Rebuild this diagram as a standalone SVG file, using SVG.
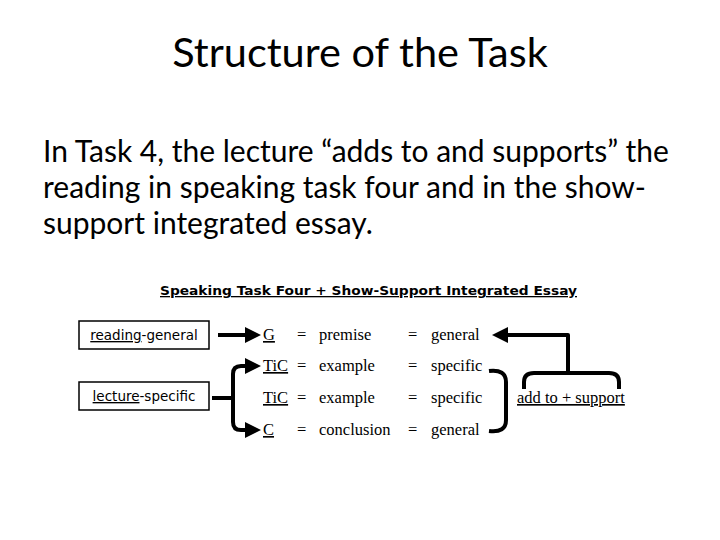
<svg xmlns="http://www.w3.org/2000/svg" width="720" height="540" viewBox="0 0 720 540">
<style>
.title{font-family:Lato,"Open Sans",sans-serif;font-size:41.5px;fill:#000}
.body{font-family:Lato,"Open Sans",sans-serif;font-size:30px;fill:#000}
.head{font-family:"DejaVu Sans",Verdana,sans-serif;font-size:13px;font-weight:bold;fill:#000;text-decoration:underline}
.box{fill:#fff;stroke:#000;stroke-width:1.5}
.lbl{font-family:"DejaVu Sans",Verdana,sans-serif;font-size:13.5px;fill:#000}
.ser{font-family:"Liberation Serif","Times New Roman",serif;font-size:16.5px;fill:#000}
.u{text-decoration:underline}
.thick{fill:none;stroke:#000;stroke-width:4;stroke-linejoin:round;stroke-linecap:butt}
</style>
<defs>
<marker id="ah" markerWidth="4" markerHeight="4" refX="0.5" refY="2" orient="auto" markerUnits="strokeWidth">
<path d="M0,0 L4,2 L0,4 Z" fill="#000"/>
</marker>
</defs>
<rect width="720" height="540" fill="#fff"/>
<text class="title" x="360" y="67" text-anchor="middle">Structure of the Task</text>
<text class="body" x="43" y="162">In Task 4, the lecture “adds to and supports” the</text>
<text class="body" x="43" y="198">reading in speaking task four and in the show-</text>
<text class="body" x="43" y="234">support integrated essay.</text>
<text class="head" x="160" y="295" textLength="417" lengthAdjust="spacingAndGlyphs">Speaking Task Four + Show-Support Integrated Essay</text>
<g id="reading-general">
<rect class="box" x="79" y="321" width="130" height="28"/>
<text class="lbl" x="144" y="340" text-anchor="middle"><tspan class="u">reading</tspan>-general</text>
</g>
<g id="lecture-specific">
<rect class="box" x="79" y="382" width="130" height="28"/>
<text class="lbl" x="144" y="401" text-anchor="middle"><tspan class="u">lecture</tspan>-specific</text>
</g>
<g id="rows">
<text class="ser u" x="263" y="340">G</text>
<text class="ser" x="297" y="340">=</text>
<text class="ser" x="319" y="340">premise</text>
<text class="ser" x="408" y="340">=</text>
<text class="ser" x="431" y="340">general</text>
<text class="ser u" x="263" y="371">TiC</text>
<text class="ser" x="297" y="371">=</text>
<text class="ser" x="319" y="371">example</text>
<text class="ser" x="408" y="371">=</text>
<text class="ser" x="431" y="371">specific</text>
<text class="ser u" x="263" y="403">TiC</text>
<text class="ser" x="297" y="403">=</text>
<text class="ser" x="319" y="403">example</text>
<text class="ser" x="408" y="403">=</text>
<text class="ser" x="431" y="403">specific</text>
<text class="ser u" x="263" y="435">C</text>
<text class="ser" x="297" y="435">=</text>
<text class="ser" x="319" y="435">conclusion</text>
<text class="ser" x="408" y="435">=</text>
<text class="ser" x="431" y="435">general</text>
</g>
<g id="add-support">
<text class="ser u" x="517" y="403">add to + support</text>
</g>
<g id="connectors">
<path class="thick" d="M218,335 H247" marker-end="url(#ah)"/>
<path class="thick" d="M212,398 H233"/>
<path class="thick" d="M244,366 H241 Q233,366 233,374 V422 Q233,430 241,430 H244"/>
<path class="thick" d="M243,366 H247" marker-end="url(#ah)"/>
<path class="thick" d="M243,430 H247" marker-end="url(#ah)"/>
<path class="thick" d="M489,371 Q506,369 506,382 V420 Q506,433 489,431"/>
<path class="thick" d="M568,373 V335 H506" marker-end="url(#ah)"/>
<path class="thick" d="M524,389 V382 Q524,373 534,373 H609 Q619,373 619,382 V389"/>
</g>
</svg>
